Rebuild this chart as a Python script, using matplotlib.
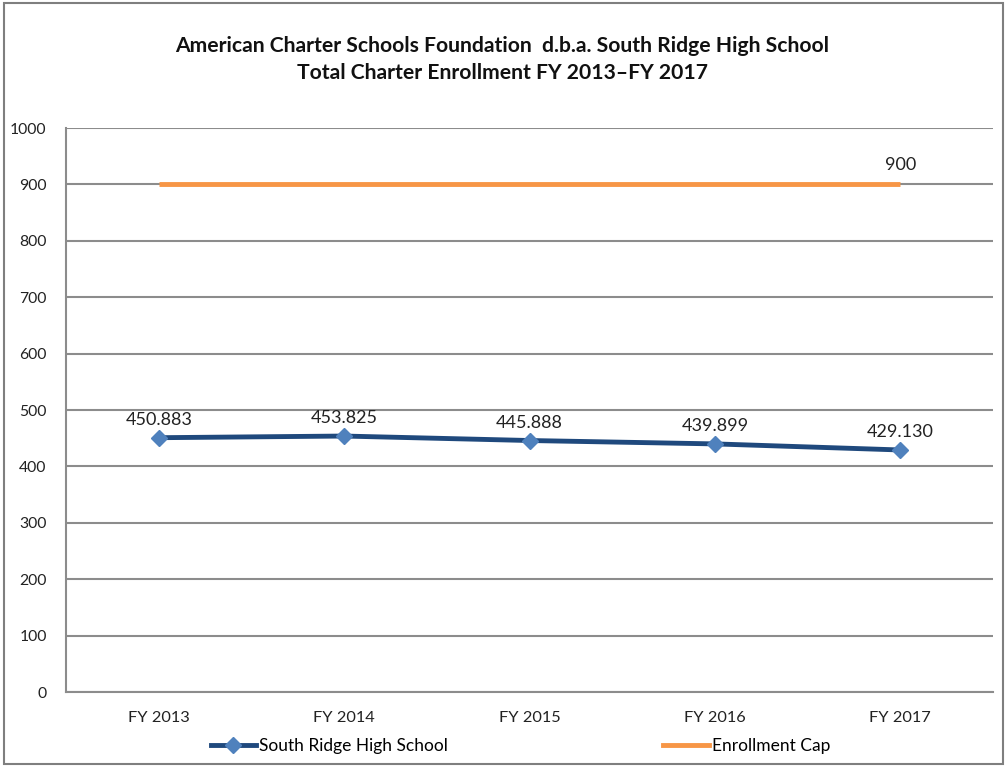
import matplotlib
matplotlib.use("Agg")
import matplotlib.pyplot as plt
from matplotlib.lines import Line2D
from matplotlib.patches import Rectangle

categories = ["FY 2013", "FY 2014", "FY 2015", "FY 2016", "FY 2017"]
school_values = [450.883, 453.825, 445.888, 439.899, 429.130]
school_labels = ["450.883", "453.825", "445.888", "439.899", "429.130"]
cap_values = [900, 900, 900, 900, 900]
yticks = [0, 100, 200, 300, 400, 500, 600, 700, 800, 900, 1000]

plt.rcParams['font.family'] = ['Lato', 'DejaVu Sans']

W, H = 1005, 766
fig = plt.figure(figsize=(W / 100, H / 100), dpi=100)
fig.patch.set_facecolor("white")

# outer border
fig.add_artist(Rectangle((4 / W, 2 / H), (W - 6) / W, (H - 5) / H,
                         transform=fig.transFigure, fill=False,
                         edgecolor="#7f7f7f", linewidth=1.5))

left, right, top, bottom = 66, 993, 128, 692
ax = fig.add_axes([left / W, 1 - bottom / H, (right - left) / W, (bottom - top) / H])

x = list(range(len(categories)))
ax.set_xlim(-0.5, len(categories) - 0.5)
ax.set_ylim(0, 1000)
ax.set_yticks(yticks)
ax.set_yticklabels([str(v) for v in yticks], fontsize=11.3, color="#222222")
ax.set_xticks(x)
ax.set_xticklabels(categories, fontsize=11.8, color="#222222")
ax.tick_params(axis="y", length=0, pad=14)
ax.tick_params(axis="x", length=0, pad=14)
ax.grid(axis="y", color="#8c8c8c", linewidth=1.5)
ax.set_axisbelow(True)
for s in ["top", "right"]:
    ax.spines[s].set_visible(False)
for s in ["left", "bottom"]:
    ax.spines[s].set_color("#8c8c8c")
    ax.spines[s].set_linewidth(1.5)

ax.plot(x, cap_values, color="#f79646", linewidth=3.5, solid_capstyle="butt", zorder=3)
ax.plot(x, school_values, color="#1f497d", linewidth=3.5, marker="D",
        markersize=8, markerfacecolor="#4f81bd", markeredgecolor="#4f81bd", zorder=4)

for xi, v, lab in zip(x, school_values, school_labels):
    ax.annotate(lab, (xi, v), xytext=(0, 7), textcoords="offset points",
                ha="center", va="bottom", fontsize=13, color="#222222")
ax.annotate(str(cap_values[-1]), (x[-1], cap_values[-1]), xytext=(0, 8),
            textcoords="offset points", ha="center", va="bottom",
            fontsize=13, color="#222222")

fig.text(0.5, 1 - 46 / H, "American Charter Schools Foundation  d.b.a. South Ridge High School",
         ha="center", va="center", fontsize=15.2, fontweight="bold", color="#111111")
fig.text(0.5, 1 - 73 / H, "Total Charter Enrollment FY 2013\u2013FY 2017",
         ha="center", va="center", fontsize=15.2, fontweight="bold", color="#111111")

handles = [
    Line2D([], [], color="#1f497d", linewidth=3.5, marker="D", markersize=8,
           markerfacecolor="#4f81bd", markeredgecolor="#4f81bd"),
    Line2D([], [], color="#f79646", linewidth=3.5),
]
leg = fig.legend(handles, ["South Ridge High School", "Enrollment Cap"],
                 loc="center", bbox_to_anchor=(0.518, 1 - 746 / H), ncol=2,
                 frameon=False, fontsize=12.5, columnspacing=12.4, handlelength=2.6,
                 handletextpad=0.2)

fig.savefig("out.png", dpi=100)
